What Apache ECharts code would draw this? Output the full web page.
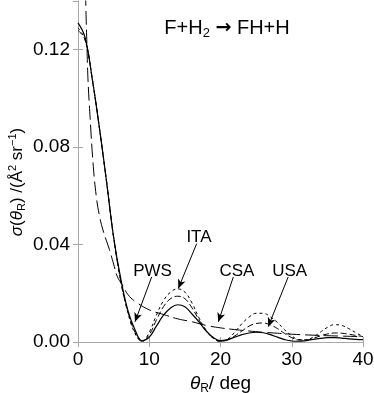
<!DOCTYPE html>
<html><head><meta charset="utf-8">
<script src="https://cdn.jsdelivr.net/npm/echarts@6/dist/echarts.min.js"></script>
<style>html,body{margin:0;padding:0;background:#fff}#c{width:374px;height:393px}</style>
</head><body><div id="c"></div>
<script>
const theta = [0,1,2,3,4,5,6,7,8,9,10,11,12,13,14,15,16,17,18,19,20,21,22,23,24,25,26,27,28,29,30,31,32,33,34,35,36,37,38,39,40];
const pws = [0.131,0.125,0.108,0.088,0.066,0.043,0.026,0.013,0.005,0.0005,0.002,0.0065,0.011,0.014,0.0153,0.0145,0.0115,0.0082,0.0045,0.0018,0.0006,0.001,0.002,0.003,0.0037,0.004,0.0038,0.003,0.002,0.001,0.0004,0.0003,0.0006,0.0011,0.0015,0.0018,0.0018,0.0016,0.0013,0.0011,0.001];
const ita = [0.129,0.124,0.108,0.088,0.066,0.043,0.025,0.012,0.0035,0.0002,0.004,0.011,0.017,0.0205,0.0218,0.0205,0.016,0.0098,0.0048,0.0015,0.0002,0.0012,0.004,0.0075,0.0102,0.0118,0.0118,0.0103,0.008,0.005,0.0025,0.001,0.0009,0.002,0.004,0.006,0.0071,0.0068,0.0055,0.0038,0.0022];
const usa = [0.128,0.124,0.108,0.088,0.066,0.043,0.025,0.0125,0.004,0.0003,0.003,0.009,0.0145,0.0178,0.0188,0.0178,0.014,0.009,0.0045,0.0015,0.0003,0.0008,0.0025,0.0045,0.0065,0.0076,0.0078,0.007,0.0055,0.0035,0.0018,0.0008,0.0008,0.0015,0.0025,0.0033,0.0037,0.0036,0.0032,0.0027,0.0022];
const csaTheta = [0.9,1.0,1.1,1.25,1.4,1.7,2.15,2.6,3.0,3.5,4.4,5.0,5.5,6.2,7.0,8.0,10,12,14,16,18,20,22,24,26,28,30,33,36,40];
const csa = [0.175,0.155,0.138,0.122,0.108,0.092,0.072,0.059,0.052,0.046,0.038,0.032,0.027,0.0235,0.0195,0.0167,0.0132,0.0113,0.0095,0.0083,0.0068,0.0058,0.0051,0.0045,0.004,0.0036,0.0032,0.0028,0.0025,0.0022];
const xTicks = [0,10,20,30,40];
const yTicks = [0,0.04,0.08,0.12];
// annotation labels: [text, theta, value], arrows: [from theta, from value, to theta, to value]
const labels = [["PWS",10.46,0.0291],["ITA",16.98,0.043],["CSA",22.3,0.0291],["USA",29.7,0.0291]];
const arrows = [[10.34,0.0267,8.0,0.0083],[16.66,0.0404,14.08,0.0220],[21.8,0.0267,19.7,0.0083],[29.5,0.0267,26.7,0.0063]];

const FONT = '"Liberation Sans", Arial, Helvetica, sans-serif';
const chart = echarts.init(document.getElementById('c'));
const axisGray = '#a8a8a8';
const mk = (xs, ys) => xs.map((t,i)=>[t, ys[i]]);
const baseLine = {type:'line', showSymbol:false, symbol:'none', clip:true, xAxisIndex:0, yAxisIndex:0, animation:false};
const xCommon = {type:'value', min:0, max:40, interval:10,
  axisLine:{show:true, lineStyle:{color:axisGray, width:1}},
  axisTick:{show:true, inside:true, length:5, lineStyle:{color:axisGray}},
  splitLine:{show:false}};
const yCommon = {type:'value', min:0, max:0.14, interval:0.04,
  axisLine:{show:true, lineStyle:{color:axisGray, width:1}},
  axisTick:{show:true, inside:true, length:5, lineStyle:{color:axisGray}},
  splitLine:{show:false}};
chart.setOption({
  backgroundColor:'#fff',
  animation:false,
  grid:{left:78, right:11, top:1, bottom:51, containLabel:false, outerBoundsMode:'none'},
  title:{text:'F+H{sub|2} {ar|→} FH+H', left:222, top:12, textAlign:'center',
    textStyle:{fontFamily:FONT, fontSize:20, fontWeight:'normal', color:'#000',
      rich:{sub:{fontFamily:FONT, fontSize:13, color:'#000', padding:[10,0,0,0]}, ar:{fontFamily:'DejaVu Sans', fontSize:19, fontWeight:'bold', color:'#000'}}}},
  graphic:[{type:'text', x:17, y:182, rotation:Math.PI/2, silent:true,
    style:{text:'{it|σ}({it|θ}{sub|R}) /(Å{sup|2} sr{sup|−1})', align:'center', verticalAlign:'middle',
      font:'17px ' + FONT, fill:'#000',
      rich:{it:{fontFamily:FONT, fontSize:17, fontStyle:'italic', fill:'#000'},
            sub:{fontFamily:FONT, fontSize:11, fill:'#000', padding:[9,0,0,0]},
            sup:{fontFamily:FONT, fontSize:11, fill:'#000', padding:[0,0,8,0]}}}}],
  xAxis:[
    Object.assign({}, xCommon, {position:'bottom',
      name:'{it|θ}{sub|R}/ deg', nameLocation:'middle', nameGap:30,
      nameTextStyle:{fontFamily:FONT, fontSize:19, color:'#000',
        rich:{it:{fontFamily:FONT, fontSize:19, fontStyle:'italic', color:'#000'}, sub:{fontFamily:FONT, fontSize:12, color:'#000', padding:[10,0,0,0]}}},
      axisLabel:{show:true, color:'#000', fontFamily:FONT, fontSize:19, margin:8, customValues:xTicks}}),
    Object.assign({}, xCommon, {position:'top', axisLabel:{show:false}})
  ],
  yAxis:[
    Object.assign({}, yCommon, {position:'left',
      axisLabel:{show:true, color:'#000', fontFamily:FONT, fontSize:19, margin:8, showMaxLabel:false,
        formatter:v=>v.toFixed(2)}}),
    Object.assign({}, yCommon, {position:'right', axisLabel:{show:false}})
  ],
  series:[
    Object.assign({}, baseLine, {name:'CSA', data:mk(csaTheta, csa), smooth:0.4,
      lineStyle:{color:'#000', width:1, type:[14,5]}}),
    Object.assign({}, baseLine, {name:'USA', data:mk(theta, usa), smooth:0.4,
      lineStyle:{color:'#000', width:1, type:[6,3]}}),
    Object.assign({}, baseLine, {name:'ITA', data:mk(theta, ita), smooth:0.4,
      lineStyle:{color:'#000', width:1, type:[3,3]}}),
    Object.assign({}, baseLine, {name:'PWS', data:mk(theta, pws), smooth:0.4,
      lineStyle:{color:'#000', width:1.2, type:'solid'},
      markLine:{silent:true, animation:false, symbol:['none','arrow'], symbolSize:[6,9],
        lineStyle:{color:'#000', width:1, type:'solid'}, label:{show:false},
        data:arrows.map(a=>[{coord:[a[0],a[1]]},{coord:[a[2],a[3]]}])},
      markPoint:{silent:true, animation:false, symbol:'circle', symbolSize:0,
        label:{show:true, position:'inside', color:'#000', fontFamily:FONT, fontSize:17,
          formatter:p=>p.name},
        data:labels.map(l=>({name:l[0], coord:[l[1],l[2]]}))}
    })
  ]
});
</script></body></html>
